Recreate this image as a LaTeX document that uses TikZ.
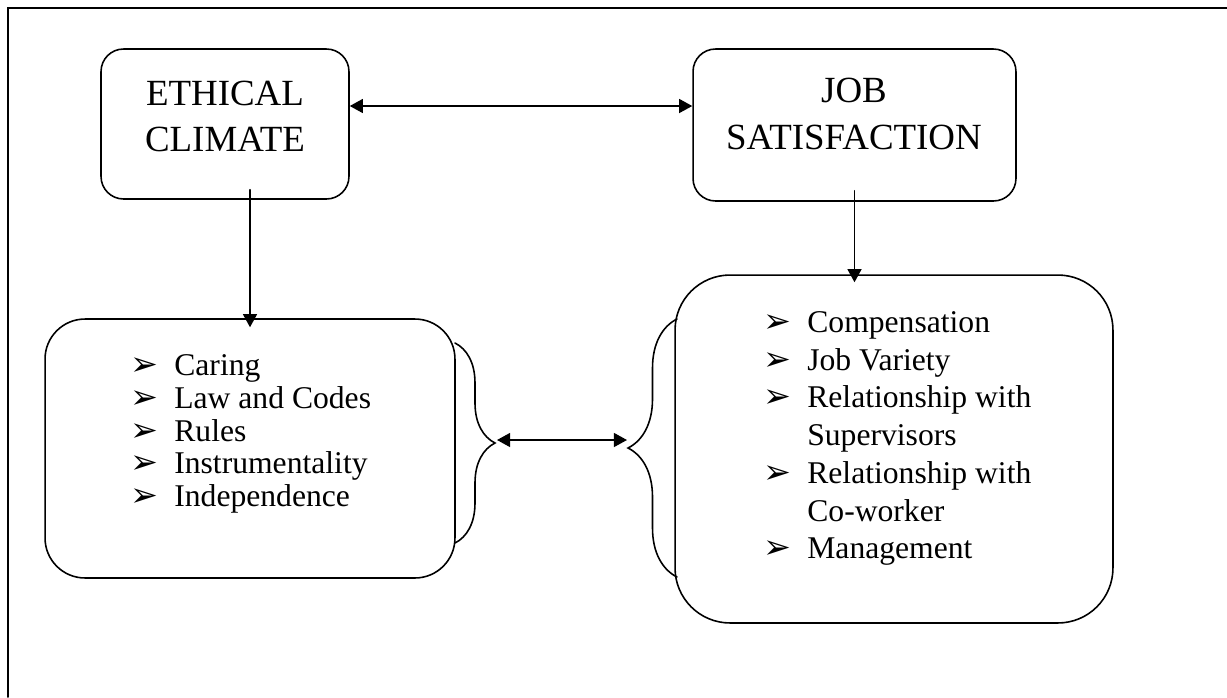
\documentclass[tikz,border=0pt]{standalone}
\usepackage{fontspec}
\setmainfont{Liberation Serif}
\newfontfamily\dingfont{DejaVu Sans}
\usetikzlibrary{arrows.meta,decorations.pathreplacing}

\newcommand{\pointer}{\makebox[0.88cm][l]{\dingfont\fontsize{19}{19}\selectfont ➢}}
\newcommand{\indentline}{\hspace*{0.88cm}}

\begin{document}
\begin{tikzpicture}[x=0.02cm, y=-0.02cm, every path/.style={line cap=round}]

        \tikzset{frame/.style = {line width=1.1pt}}
        \tikzset{roundbox/.style = {shape=rectangle,draw,line width=0.9pt,rounded corners=0.45cm}}
        \tikzset{headtext/.style = {align=center,inner sep=0pt,font=\fontsize{21}{26.6}\selectfont}}
        \tikzset{listtext/.style = {align=left,inner sep=0pt,anchor=north west,font=\fontsize{18}{#1}\selectfont}}
        \tikzset{oneway/.style = {line width=0.9pt,-{Triangle[length=7.5pt,width=8pt]}}}
        \tikzset{twoway/.style = {line width=0.9pt,{Triangle[length=7.5pt,width=8pt]}-{Triangle[length=7.5pt,width=8pt]}}}
        \tikzset{curly/.style = {line width=0.9pt,decorate,decoration={brace,amplitude=#1}}}

        \useasboundingbox (0,0) rectangle (1227,697);
        \draw[frame] (8,697) -- (8,8) -- (1227,8);

        % boxes
        \node[roundbox,minimum width=4.96cm,minimum height=3cm] (ethical) at (225,124) {};
        \node[roundbox,minimum width=6.46cm,minimum height=3.04cm] (job) at (854.5,125) {};
        \node[roundbox,rounded corners=0.8cm,minimum width=8.2cm,minimum height=5.18cm] (ethlist) at (250,448.5) {};
        \node[roundbox,rounded corners=1.1cm,minimum width=8.76cm,minimum height=6.96cm] (joblist) at (894,449) {};

        \node[headtext] (ethicalname) at (225,116.5) {ETHICAL\\CLIMATE};
        \node[headtext] (jobname) at (854,114) {JOB\\SATISFACTION};

        \node[listtext=18.7] (ethitems) at (130,354) {\pointer Caring\\
            \pointer Law and Codes\\
            \pointer Rules\\
            \pointer Instrumentality\\
            \pointer Independence};
        \node[listtext=21.5] (jobitems) at (763,311) {\pointer Compensation\\
            \pointer Job Variety\\
            \pointer Relationship with\\
            \indentline Supervisors\\
            \pointer Relationship with\\
            \indentline Co-worker\\
            \pointer Management};

        \draw[curly=0.8cm] (455,343) -- (455,543);
        \draw[curly=0.98cm] (677,577) -- (677,319);
        \coordinate (ethtip) at (497,440);
        \coordinate (jobtip) at (627,440);

        \draw[twoway] ([yshift=0.36cm]ethical.east) -- ([yshift=0.36cm]ethical.east -| job.west);
        \draw[oneway] ([yshift=0.2cm]ethical.south -| ethlist.north) -- ([yshift=-0.18cm]ethlist.north);
        \draw[oneway] ([yshift=0.22cm]job.south) -- ([yshift=-0.16cm]job.south |- joblist.north);
        \draw[twoway] (ethtip) -- (jobtip);
\end{tikzpicture}
\end{document}
